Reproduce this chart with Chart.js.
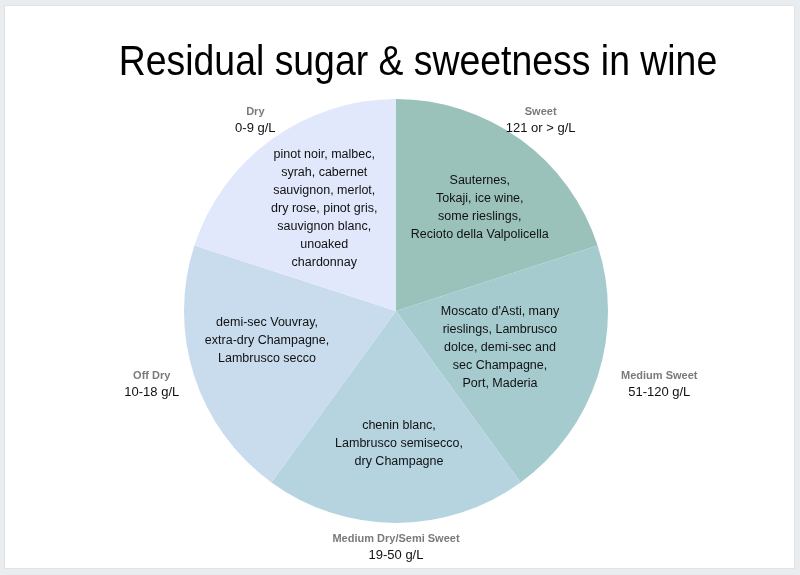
<!DOCTYPE html>
<html>
<head>
  <title>Residual sugar & sweetness in wine</title>
  <script src="https://cdn.jsdelivr.net/npm/chart.js"></script>
  <style>
    body { margin: 0; background: #eaedf0; }
    #wrap { position: absolute; left: 4px; top: 5px; width: 789px; height: 562px; background: #fff; border: 1px solid #dfe3e6; }
  </style>
</head>
<body>
  <div id="wrap"><canvas id="wineChart" width="789" height="562"></canvas></div>
  <script>
    const categories = ['Sweet', 'Medium Sweet', 'Medium Dry/Semi Sweet', 'Off Dry', 'Dry'];
    const ranges = ['121 or > g/L', '51-120 g/L', '19-50 g/L', '10-18 g/L', '0-9 g/L'];
    const shares = [1, 1, 1, 1, 1];
    const examples = [
      ['Sauternes,', 'Tokaji, ice wine,', 'some rieslings,', 'Recioto della Valpolicella'],
      ["Moscato d'Asti, many", 'rieslings, Lambrusco', 'dolce, demi-sec and', 'sec Champagne,', 'Port, Maderia'],
      ['chenin blanc,', 'Lambrusco semisecco,', 'dry Champagne'],
      ['demi-sec Vouvray,', 'extra-dry Champagne,', 'Lambrusco secco'],
      ['pinot noir, malbec,', 'syrah, cabernet', 'sauvignon, merlot,', 'dry rose, pinot gris,', 'sauvignon blanc,', 'unoaked', 'chardonnay']
    ];
    const colors = ['#9bc2ba', '#a6cbcf', '#b5d4e0', '#c9dcee', '#e1e8fb'];

    // small nudges so the text blocks sit where the original put them
    const nudge = [[9, -1], [-17, -3], [3, 5], [-8, -10], [3, 0]];
    const outerNudge = [2, 2, 0, 17, 2];

    // title + slice texts drawn after the pie
    const textPlugin = {
      id: 'wineText',
      afterDraw(chart) {
        const ctx = chart.ctx;
        ctx.save();
        ctx.fillStyle = '#000';
        ctx.textAlign = 'center';
        ctx.textBaseline = 'middle';
        // narrow-looking title: squeeze horizontally
        ctx.save();
        ctx.translate(413, 57);
        ctx.scale(0.89, 1);
        ctx.font = '42px "Liberation Sans", Arial, sans-serif';
        ctx.fillText('Residual sugar & sweetness in wine', 0, 0);
        ctx.restore();

        chart.getDatasetMeta(0).data.forEach((arc, i) => {
          const mid = (arc.startAngle + arc.endAngle) / 2;
          const r = arc.outerRadius;
          const cx = arc.x, cy = arc.y;
          const c = Math.cos(mid), s = Math.sin(mid);
          // inner example text
          const ix = cx + c * r * 0.6 + nudge[i][0];
          const iy = cy + s * r * 0.6 + nudge[i][1];
          const lines = examples[i];
          ctx.font = '12.5px "Liberation Sans", Arial, sans-serif';
          ctx.fillStyle = '#111';
          lines.forEach((t, k) => {
            ctx.fillText(t, ix, iy + (k - (lines.length - 1) / 2) * 18);
          });
          // outer label, pushed further out at the sides
          const ox = cx + c * (r - 21 + 88 * Math.abs(c)) + outerNudge[i];
          const oy = cy + s * (r + 24);
          ctx.font = 'bold 11px "Liberation Sans", Arial, sans-serif';
          ctx.fillStyle = '#7a7a7a';
          ctx.fillText(categories[i], ox, oy - 8);
          ctx.font = '13px "Liberation Sans", Arial, sans-serif';
          ctx.fillStyle = '#111';
          ctx.fillText(ranges[i], ox, oy + 8);
        });
        ctx.restore();
      }
    };

    new Chart(document.getElementById('wineChart'), {
      type: 'pie',
      data: {
        labels: categories,
        datasets: [{ data: shares, backgroundColor: colors, borderWidth: 0 }]
      },
      options: {
        responsive: false,
        animation: false,
        layout: { padding: { top: 93, bottom: 45, left: 179, right: 186 } },
        plugins: { legend: { display: false }, tooltip: { enabled: false } }
      },
      plugins: [textPlugin]
    });
  </script>
</body>
</html>
